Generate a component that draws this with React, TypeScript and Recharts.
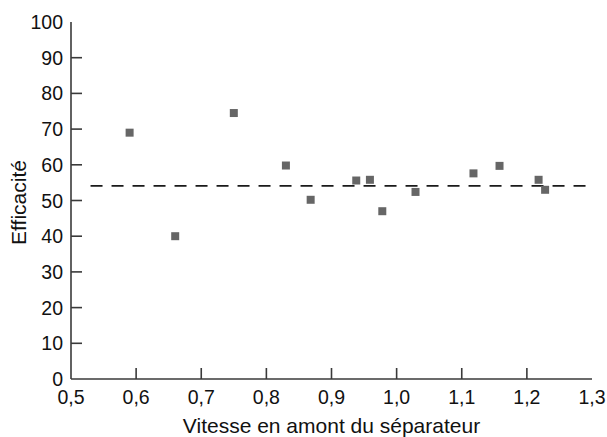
import React from 'react'
import {
  ScatterChart,
  Scatter,
  XAxis,
  YAxis,
  ZAxis,
  ReferenceLine,
} from 'recharts'

// vitesse en amont du séparateur
const vitesse = [0.59, 0.66, 0.75, 0.83, 0.868, 0.938, 0.959, 0.978, 1.029, 1.118, 1.158, 1.218, 1.228]
// efficacité mesurée
const efficacite = [69, 40, 74.5, 59.8, 50.2, 55.6, 55.8, 47, 52.4, 57.6, 59.7, 55.8, 53]

const moyenne = 54.1
const dashStart = 0.53

const xTicks = [0.5, 0.6, 0.7, 0.8, 0.9, 1.0, 1.1, 1.2, 1.3]
const yTicks = [0, 10, 20, 30, 40, 50, 60, 70, 80, 90, 100]

const data = vitesse.map((v, i) => ({ x: v, y: efficacite[i] }))

const FONT = '"Liberation Sans", Arial, Helvetica, sans-serif'
const AXIS = '#3a3a3a'
const TEXT = '#111'
const TICK = 11

const renderXTick = (props: any) => {
  const { x, y, payload } = props
  const v = Number(payload.value)
  const edge = v === xTicks[0] || v === xTicks[xTicks.length - 1]
  return (
    <g>
      {!edge && <path d={`M${x},${y}V${y - TICK}`} stroke={AXIS} strokeWidth={1.6} fill="none" />}
      <text x={x} y={y + 25} textAnchor="middle" fill={TEXT} fontSize={19.5} fontFamily={FONT}>
        {v.toFixed(1).replace('.', ',')}
      </text>
    </g>
  )
}

const renderYTick = (props: any) => {
  const { x, y, payload } = props
  const v = Number(payload.value)
  const edge = v === yTicks[0] || v === yTicks[yTicks.length - 1]
  return (
    <g>
      {!edge && <path d={`M${x},${y}H${x + TICK}`} stroke={AXIS} strokeWidth={1.6} fill="none" />}
      <text x={x - 8} y={y + 7} textAnchor="end" fill={TEXT} fontSize={19.5} fontFamily={FONT}>
        {String(v)}
      </text>
    </g>
  )
}

const YLabel = ({ viewBox }: any) => {
  const cx = viewBox.x + 26
  const cy = viewBox.y + viewBox.height / 2 + 2
  return (
    <text
      x={cx}
      y={cy}
      transform={`rotate(-90, ${cx}, ${cy})`}
      textAnchor="middle"
      fontSize={21}
      fontFamily={FONT}
      fill={TEXT}
    >
      Efficacité
    </text>
  )
}

const XLabel = ({ viewBox }: any) => (
  <text
    x={viewBox.x + viewBox.width / 2}
    y={viewBox.y + 54}
    textAnchor="middle"
    fontSize={21}
    fontFamily={FONT}
    fill={TEXT}
  >
    Vitesse en amont du séparateur
  </text>
)

const axisLine = { stroke: AXIS, strokeWidth: 1.6 }

export default function App() {
  return (
    <div style={{ position: 'absolute', left: 0, top: 0, width: 607, height: 437, background: '#ffffff' }}>
      <ScatterChart width={607} height={437} margin={{ top: 22, right: 15, bottom: 0, left: 0 }}>
        <XAxis
          type="number"
          dataKey="x"
          domain={[0.5, 1.3]}
          ticks={xTicks}
          height={58}
          tickSize={0}
          tickMargin={0}
          tickLine={false}
          axisLine={axisLine}
          tick={renderXTick}
          label={<XLabel />}
        />
        <XAxis
          xAxisId="top"
          orientation="top"
          type="number"
          dataKey="x"
          domain={[0.5, 1.3]}
          height={0}
          tick={false}
          tickLine={false}
          axisLine={axisLine}
        />
        <YAxis
          type="number"
          dataKey="y"
          domain={[0, 100]}
          ticks={yTicks}
          width={71}
          tickSize={0}
          tickMargin={0}
          tickLine={false}
          axisLine={axisLine}
          tick={renderYTick}
          label={<YLabel />}
        />
        <YAxis
          yAxisId="right"
          orientation="right"
          type="number"
          dataKey="y"
          domain={[0, 100]}
          width={0}
          tick={false}
          tickLine={false}
          axisLine={axisLine}
        />
        <ZAxis range={[85, 85]} />
        <ReferenceLine
          segment={[
            { x: dashStart, y: moyenne },
            { x: 1.3, y: moyenne },
          ]}
          stroke="#1a1a1a"
          strokeWidth={1.6}
          strokeDasharray="12 9"
          ifOverflow="visible"
        />
        <Scatter data={data} shape="square" fill="#666666" isAnimationActive={false} />
      </ScatterChart>
    </div>
  )
}
